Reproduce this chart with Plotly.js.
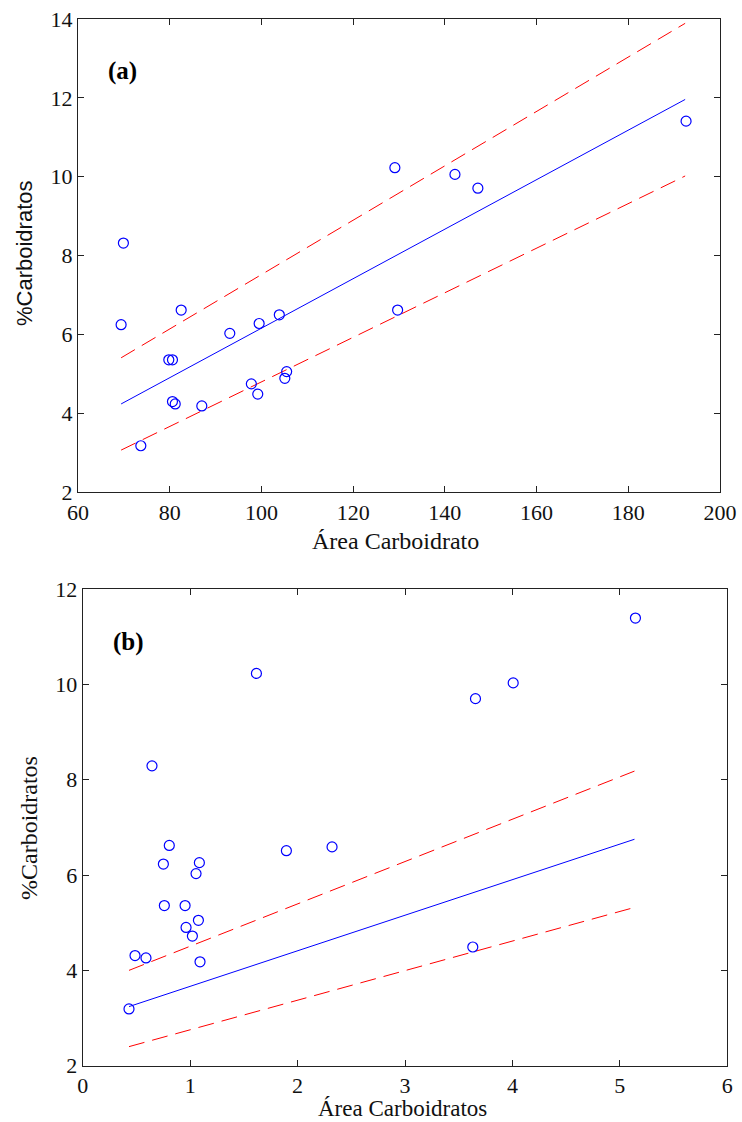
<!DOCTYPE html>
<html>
<head>
<meta charset="utf-8">
<script src="https://cdn.plot.ly/plotly-3.0.1.min.js"></script>
<style>
  html, body { margin: 0; padding: 0; background: #fff; }
  #chart { width: 742px; height: 1122px; }
</style>
</head>
<body>
<div id="chart"></div>
<script>
// (a) peak area vs. carbohydrate content
const areaA = [69.9, 129.1, 142.2, 147.2, 192.6, 69.4, 82.5, 79.8, 80.6, 93.1, 99.5,
               103.9, 80.6, 81.2, 87.0, 73.7, 97.8, 99.2, 105.1, 105.5, 129.7];
const carbA = [8.32, 10.23, 10.06, 9.71, 11.41, 6.25, 6.62, 5.36, 5.36, 6.03, 6.28,
               6.50, 4.30, 4.24, 4.19, 3.18, 4.75, 4.49, 4.89, 5.06, 6.62];
const fitAx = [69.4, 192.4];
const fitAy = [4.24, 11.96];
const upperAy = [5.41, 13.89];
const lowerAy = [3.07, 10.02];

// (b) normalised area vs. carbohydrate content
const areaB = [0.645, 1.617, 0.806, 0.751, 1.086, 1.896, 2.321, 1.055, 0.760, 0.953, 1.077,
               0.962, 1.021, 0.487, 0.589, 1.092, 0.431, 3.656, 4.007, 5.145, 3.631];
const carbB = [8.29, 10.23, 6.62, 6.23, 6.26, 6.51, 6.59, 6.03, 5.36, 5.36, 5.05,
               4.90, 4.72, 4.31, 4.26, 4.18, 3.19, 9.70, 10.03, 11.39, 4.49];
const fitBx = [0.431, 5.136];
const fitBy = [3.24, 6.75];
const upperBy = [4.00, 8.18];
const lowerBy = [2.40, 5.32];

const xTicksA = [60, 80, 100, 120, 140, 160, 180, 200];
const yTicksA = [2, 4, 6, 8, 10, 12, 14];
const xTicksB = [0, 1, 2, 3, 4, 5, 6];
const yTicksB = [2, 4, 6, 8, 10, 12];

const BLUE = '#0000ff';
const RED = '#ff0000';
const serif = 'Liberation Serif, Times New Roman, serif';
const sans = 'Liberation Sans, Arial, sans-serif';

function panel(xa, ya, xs, ys, fx, fy, up, lo) {
  return [
    { x: fx, y: up, xaxis: xa, yaxis: ya, mode: 'lines',
      line: { color: RED, width: 1, dash: '16px,8px' } },
    { x: fx, y: lo, xaxis: xa, yaxis: ya, mode: 'lines',
      line: { color: RED, width: 1, dash: '16px,8px' } },
    { x: fx, y: fy, xaxis: xa, yaxis: ya, mode: 'lines',
      line: { color: BLUE, width: 1 } },
    { x: xs, y: ys, xaxis: xa, yaxis: ya, mode: 'markers',
      marker: { symbol: 'circle-open', size: 10, color: BLUE, line: { width: 1.2, color: BLUE } } }
  ];
}

const traces = [
  ...panel('x', 'y', areaA, carbA, fitAx, fitAy, upperAy, lowerAy),
  ...panel('x2', 'y2', areaB, carbB, fitBx, fitBy, upperBy, lowerBy)
];

function axis(range, ticks, domain, anchor) {
  return {
    range: range, domain: domain, anchor: anchor,
    tickmode: 'array', tickvals: ticks, ticktext: ticks.map(String),
    ticks: 'inside', ticklen: 6, tickwidth: 1, tickcolor: '#222',
    showline: true, linecolor: '#222', linewidth: 1, mirror: 'ticks',
    showgrid: false, zeroline: false,
    tickfont: { family: serif, size: 22, color: '#111' }
  };
}

const layout = {
  width: 742, height: 1122,
  margin: { l: 0, r: 0, t: 0, b: 0 },
  paper_bgcolor: '#fff', plot_bgcolor: '#fff',
  showlegend: false,
  xaxis:  axis([60, 200], xTicksA, [78 / 742, 720 / 742], 'y'),
  yaxis:  axis([2, 14], yTicksA, [1 - 492.3 / 1122, 1 - 19 / 1122], 'x'),
  xaxis2: axis([0, 6], xTicksB, [82.7 / 742, 727.3 / 742], 'y2'),
  yaxis2: axis([2, 12], yTicksB, [1 - 1065.7 / 1122, 1 - 589 / 1122], 'x2'),
  annotations: [
    { text: '<b>(a)</b>', xref: 'paper', yref: 'paper', x: 106 / 742, y: 1 - 71 / 1122,
      xanchor: 'left', yanchor: 'middle', showarrow: false,
      font: { family: serif, size: 25, color: '#000' } },
    { text: '<b>(b)</b>', xref: 'paper', yref: 'paper', x: 111 / 742, y: 1 - 642 / 1122,
      xanchor: 'left', yanchor: 'middle', showarrow: false,
      font: { family: serif, size: 25, color: '#000' } },
    { text: 'Área Carboidrato', xref: 'paper', yref: 'paper', x: 395 / 742, y: 1 - 541 / 1122,
      xanchor: 'center', yanchor: 'middle', showarrow: false,
      font: { family: serif, size: 24, color: '#111' } },
    { text: '%Carboidratos', xref: 'paper', yref: 'paper', x: 25 / 742, y: 1 - 253 / 1122,
      xanchor: 'center', yanchor: 'middle', textangle: -90, showarrow: false,
      font: { family: sans, size: 22, color: '#111' } },
    { text: 'Área Carboidratos', xref: 'paper', yref: 'paper', x: 402 / 742, y: 0,
      xanchor: 'center', yanchor: 'bottom', borderpad: 0, showarrow: false,
      font: { family: serif, size: 23, color: '#111' } },
    { text: '%Carboidratos', xref: 'paper', yref: 'paper', x: 29 / 742, y: 1 - 828 / 1122,
      xanchor: 'center', yanchor: 'middle', textangle: -90, showarrow: false,
      font: { family: serif, size: 24, color: '#111' } }
  ]
};

Plotly.newPlot('chart', traces, layout, { staticPlot: true, displayModeBar: false });
</script>
</body>
</html>
